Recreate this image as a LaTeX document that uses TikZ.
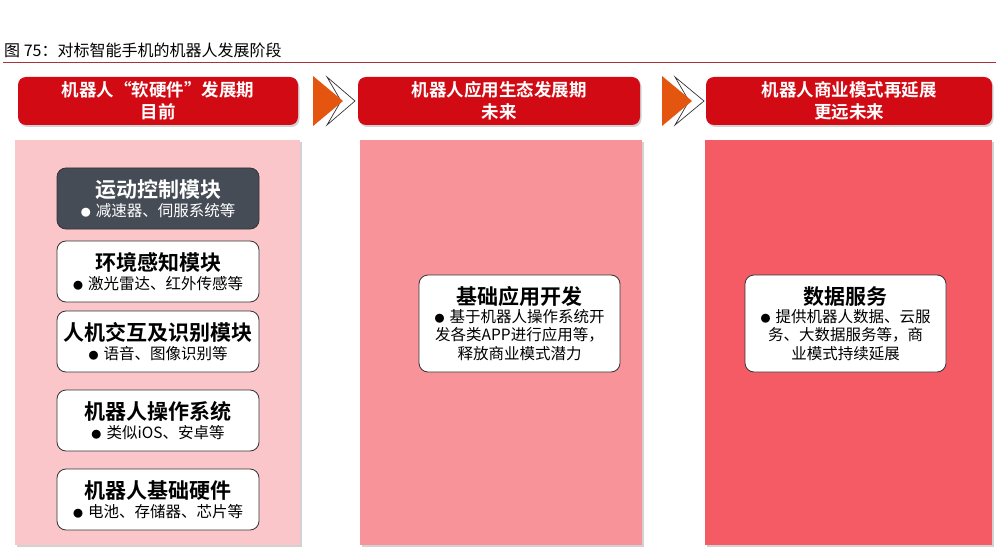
\documentclass[tikz,border=0pt]{standalone}
\usepackage{fontspec}
\setmainfont{Noto Sans CJK SC}[BoldFont={Noto Sans CJK SC Bold}]
\usetikzlibrary{shadows}
\definecolor{hdred}{HTML}{D20A14}
\definecolor{pa}{HTML}{FAC6CA}
\definecolor{pb}{HTML}{F8939A}
\definecolor{pc}{HTML}{F45B65}
\definecolor{darkbox}{HTML}{454C56}
\definecolor{arrorange}{HTML}{E4550F}
\definecolor{rule}{HTML}{A8333A}
\tikzset{
  header/.style={draw=none, fill=hdred, rounded corners=8pt, drop shadow={opacity=0.35, shadow xshift=1.5pt, shadow yshift=-2pt}, text=white, font=\bfseries\fontsize{17.5}{22}\selectfont, align=center, inner sep=0pt},
  panel/.style={draw=none, drop shadow={opacity=0.35, shadow xshift=2pt, shadow yshift=-2pt}},
  modbox/.style={draw=black!80, line width=0.8pt, fill=white, rounded corners=9pt, align=center, inner sep=0pt},
  chev/.style={draw=black!80, line width=0.7pt, fill=white},
  tri/.style={draw=none, fill=arrorange},
}
\newcommand{\bgt}{\bfseries\fontsize{21}{24}\selectfont}
\newcommand{\smt}{\mdseries\fontsize{15.5}{18.5}\selectfont}
\newcommand{\bul}{{\fontsize{10}{10}\selectfont ●}\hspace{5pt}}
\begin{document}
\begin{tikzpicture}[x=1pt,y=-1pt]
\useasboundingbox (0,0) rectangle (1006,556);
\fill[white] (0,0) rectangle (1006,556);
% title
\node[anchor=west, inner sep=0pt, font=\fontsize{16}{18}\selectfont] (title) at (4,50) {图 75：对标智能手机的机器人发展阶段};
\draw[rule, line width=0.8pt] (3,62.5) -- (996,62.5);
% headers
\node[header, minimum width=280pt, minimum height=48pt] (h1) at (158,101) {机器人“软硬件”发展期\\目前};
\node[header, minimum width=282pt, minimum height=48pt] (h2) at (499,101) {机器人应用生态发展期\\未来};
\node[header, minimum width=286pt, minimum height=48pt] (h3) at (849,101) {机器人商业模式再延展\\更远未来};
% chevrons
\path[chev] (327,77) -- (355,101) -- (327,125) -- (341,101) -- cycle;
\path[tri] (313,76) -- (343,101) -- (313,126) -- cycle;
\path[chev] (675,77) -- (704,101) -- (675,125) -- (689,101) -- cycle;
\path[tri] (662,76) -- (692,101) -- (662,126) -- cycle;
% panels
\path[panel, fill=pa] (15,140) rectangle (300,545);
\path[panel, fill=pb] (360,140) rectangle (642,545);
\path[panel, fill=pc] (705,140) rectangle (992,545);
% column 1 modules
\node[modbox, fill=darkbox, text=white, minimum width=202pt, minimum height=61pt] (m1) at (158,198.5) {\bgt 运动控制模块\\[3pt]\smt \bul 减速器、伺服系统等};
\node[modbox, minimum width=202pt, minimum height=61pt] (m2) at (158,271.5) {\bgt 环境感知模块\\[3pt]\smt \bul 激光雷达、红外传感等};
\node[modbox, minimum width=202pt, minimum height=61pt] (m3) at (158,341.5) {\bgt 人机交互及识别模块\\[3pt]\smt \bul 语音、图像识别等};
\node[modbox, minimum width=202pt, minimum height=61pt] (m4) at (158,420.5) {\bgt 机器人操作系统\\[3pt]\smt \bul 类似iOS、安卓等};
\node[modbox, minimum width=202pt, minimum height=61pt] (m5) at (158,499.5) {\bgt 机器人基础硬件\\[3pt]\smt \bul 电池、存储器、芯片等};
% column 2
\node[modbox, minimum width=201pt, minimum height=97pt] (a1) at (519.5,323.5) {\bgt 基础应用开发\\[2pt]\smt \bul 基于机器人操作系统开\\[3pt]\smt 发各类APP进行应用等，\\[3pt]\smt 释放商业模式潜力};
% column 3
\node[modbox, minimum width=201pt, minimum height=97pt] (b1) at (845.5,323.5) {\bgt 数据服务\\[2pt]\smt \bul 提供机器人数据、云服\\[3pt]\smt 务、大数据服务等，商\\[3pt]\smt 业模式持续延展};
\end{tikzpicture}
\end{document}
